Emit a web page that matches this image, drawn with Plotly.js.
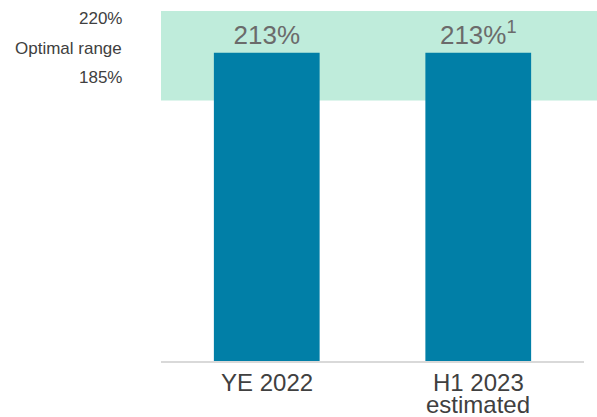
<!DOCTYPE html>
<html>
<head>
<meta charset="utf-8">
<script src="https://cdn.plot.ly/plotly-3.0.1.min.js"></script>
<style>html,body{margin:0;padding:0;background:#fff}#chart{width:597px;height:417px}</style>
</head>
<body>
<div id="chart"></div>
<script>
const categories = ["YE 2022", "H1 2023 estimated"];
const categoryLabelLines = [["YE 2022"], ["H1 2023", "estimated"]];
const values = [213, 213];
const valueLabels = ["213%", "213%<sup>1</sup>"];
const bandLabels = ["220%", "Optimal range", "185%"];

const FONT = "Liberation Sans, Arial, sans-serif";

const trace = {
  type: "bar",
  x: categories,
  y: values,
  text: valueLabels,
  textposition: "outside",
  texttemplate: "%{text}",
  textfont: {family: FONT, size: 26, color: "#6b6b6b"},
  cliponaxis: false,
  marker: {color: "#017FA7"},
  hoverinfo: "skip"
};

const bandLabelY = [0.98, 0.894, 0.809];
const annotations = bandLabels.map((t, i) => ({
  text: t, xref: "paper", yref: "paper", x: -0.088, y: bandLabelY[i],
  xanchor: "right", yanchor: "middle", showarrow: false,
  font: {family: FONT, size: 17, color: "#404040"}
}));

const lineY = [-0.06, -0.125];
categories.forEach((c, i) => {
  categoryLabelLines[i].forEach((line, j) => {
    annotations.push({
      text: line, xref: "x", yref: "paper", x: c, y: lineY[j],
      xanchor: "center", yanchor: "middle", showarrow: false,
      font: {family: FONT, size: 24, color: "#404040"}
    });
  });
});

const layout = {
  width: 597, height: 417,
  margin: {l: 161, r: 13, t: 11, b: 56},
  paper_bgcolor: "#ffffff", plot_bgcolor: "rgba(0,0,0,0)",
  showlegend: false,
  bargap: 0.5,
  font: {family: FONT},
  xaxis: {
    type: "category",
    showline: true, linecolor: "#d9d9d9", linewidth: 2,
    showgrid: false, zeroline: false, ticks: "",
    showticklabels: false
  },
  yaxis: {
    range: [0, 241.8], visible: false, showgrid: false, zeroline: false
  },
  shapes: [{
    type: "rect", xref: "paper", yref: "paper", x0: 0, x1: 1.031, y0: 0.744, y1: 1.0,
    fillcolor: "#BFECDB", line: {width: 0}, layer: "below"
  }],
  annotations: annotations
};

Plotly.newPlot("chart", [trace], layout, {staticPlot: true, displayModeBar: false});
</script>
</body>
</html>
